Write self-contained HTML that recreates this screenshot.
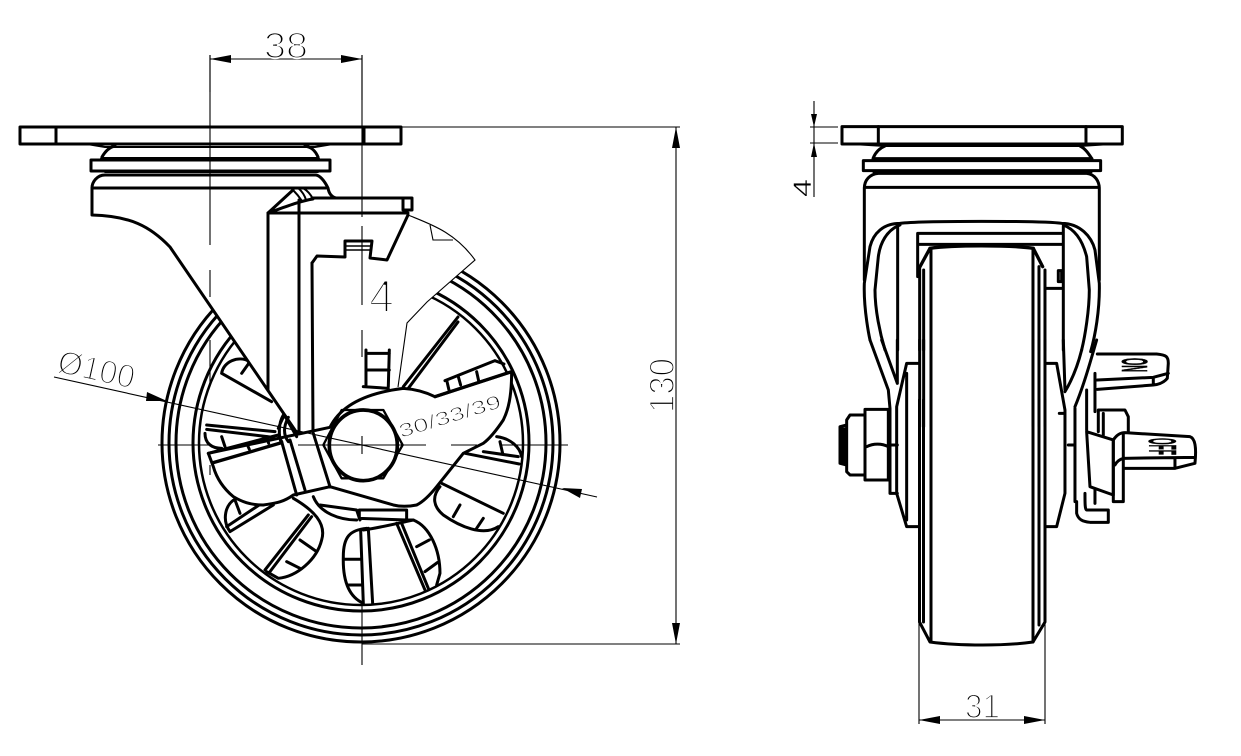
<!DOCTYPE html>
<html><head><meta charset="utf-8">
<style>
html,body{margin:0;padding:0;background:#fff}
svg{display:block}
.l{fill:none;stroke:#000;stroke-width:3;stroke-linejoin:round;stroke-linecap:round}
.z{fill:none;stroke:#000;stroke-width:9;stroke-linejoin:round;stroke-linecap:round}
.zf{fill:#fff;stroke:#000;stroke-width:9;stroke-linejoin:round;stroke-linecap:round}
.n{fill:none;stroke:#000;stroke-width:1.1}
.a{fill:#000;stroke:none}
.t{font-family:"Liberation Sans",sans-serif;fill:#000;stroke:#fff;stroke-width:1.5;paint-order:fill;}
.b{font-family:"Liberation Sans",sans-serif;font-weight:bold;fill:#000;stroke:#000;stroke-width:.6}
</style></head><body>
<svg width="1241" height="756" viewBox="0 0 1241 756" xmlns="http://www.w3.org/2000/svg">
<rect width="1241" height="756" fill="#fff"/>

<!-- wheel rings -->
<g class="l" style="fill:none">
<circle cx="361" cy="443" r="199"/>
<circle cx="361" cy="443" r="192"/>
<circle cx="361" cy="443" r="185"/>
<circle cx="361" cy="443" r="168"/>
<circle cx="361" cy="443" r="162" style="stroke-width:2.5"/>
</g>

<!-- pockets (zoom coords) -->
<g transform="translate(150,340) scale(.3333)">
<path class="z" d="M650,565C600,570 580,590 580,650C578,720 595,770 640,790M632,570L640,790M655,565L668,790M585,658L632,658M592,735L638,735M640,570C680,565 720,555 790,540"/>
<path class="z" d="M740,550L825,750M755,550L835,745M760,540L790,540C840,560 870,630 870,700L860,735M800,620L838,600M825,695L862,668"/>
<path class="z" d="M875,430L1060,520M870,440C845,470 850,500 880,525C930,560 1000,590 1045,560M930,495L910,530M1000,535L980,565"/>
<path class="z" d="M945,340L1108,372M1000,335L1105,350M1040,290C1080,295 1110,320 1115,350M1050,305L1058,340"/>
<path class="z" d="M240,575L370,495M230,560L335,490M240,575C215,540 225,490 260,475M255,480L270,520"/>
<path class="z" d="M345,690L475,525M360,695L485,530M430,475C490,510 530,550 515,600C500,660 440,710 385,715L350,695M450,600L500,635M410,665L450,685"/>
<path class="z" d="M215,100L365,185M215,100C220,65 265,45 300,65L275,100M170,255L375,275M170,268L370,292M165,280C165,310 185,325 215,325M215,290L225,320"/>
<path class="z" d="M760,140L924,-69M775,145L924,-54"/>
<path class="z" d="M490,470C510,520 570,540 620,540M510,495L620,510L630,540"/>
<path class="zf" d="M628,510L770,510L770,540L628,535Z"/>
</g>

<!-- mask for fork + brake region -->
<path fill="#fff" d="M92,188L92,215C130,218 150,226 170,247L297,433L330,428L363,393L398,387L407,323L427,302L475,260C455,232 430,226 408,215L340,198L330,176L100,176Z"/>

<!-- plate and swivel -->
<rect x="20" y="127" width="381" height="17" class="l"/>
<path class="l" d="M56,127V144M364,127V144"/>
<path class="l" style="stroke-width:2" d="M87,144L105,147H315L333,144"/>
<path class="l" d="M102,157C106,150 110,147 115,146M305,146C311,147 315,150 318,157"/>
<path class="l" style="stroke-width:4" d="M102,159H318"/>
<rect x="91" y="160" width="239" height="11" class="l"/>
<path class="l" style="stroke-width:2" d="M105,172H318"/>
<path class="l" d="M92,188C92,182 97,175 105,175H316C321,176 325,182 328,188C329,194 332,197 336,198"/>
<path class="l" d="M92,188H326M92,188V215C130,216 150,226 170,247L297,433"/>

<!-- brake -->
<path class="l" d="M268,213V390M299,200V433M312,263L313,433L330,487"/>
<path class="l" d="M268,213H408M312,198H412V210H403V198M268,213L293,190M268,213C285,207 300,201 313,199"/>
<path class="l" style="stroke-width:2" d="M293,190C296,193 300,198 302,201M298,188C302,191 305,196 306,200M303,188C308,191 311,195 313,199"/>
<path class="l" d="M408,215L387,260L370,258L372,241H345V257L317,256L312,263"/>
<path class="l" style="stroke-width:1.5" d="M346,246H371M346,250H371"/>
<path class="n" d="M408,215C430,224 455,232 475,260L427,302L407,323L398,387M430,225L433,240H453"/>

<!-- hub -->
<g transform="translate(150,340) scale(.3333)">
<path class="zf" d="M175,340L540,262C570,200 640,160 760,145C790,147 825,155 855,170L1085,95C1085,170 1075,210 1060,240C1040,270 1020,295 1000,310L940,340L860,440C840,465 820,485 800,495C775,500 750,500 730,495L540,440L430,465C395,490 370,490 340,495C300,495 275,485 250,470C220,445 200,415 190,380Z"/>
<path class="z" style="stroke-width:10" d="M190,368L395,308M855,170L1085,95"/>
<path class="z" d="M175,340L385,285L395,305M290,310L298,328M350,290L356,310"/>
<path class="z" d="M885,122L1035,62L1062,72M890,120L897,150M925,110L932,135M980,95L986,122"/>
<path class="z" d="M385,265C395,240 400,232 403,225L440,290M400,225C385,250 385,290 395,310M415,232C400,260 400,285 415,305M395,305L440,465M420,300L465,450M490,280L540,440"/>
<path class="z" d="M648,30L648,140M718,30L715,140M648,40H718M648,90H718M640,140L715,145"/>
<path class="z" d="M520,315L575,415H700L758,315L700,210H575Z" style="stroke-width:7"/>
<ellipse cx="640" cy="316" rx="102" ry="106" class="zf" style="stroke-width:11"/>
</g>

<!-- left view centre lines -->
<path class="n" d="M158,445H210M298,445H426M451,445H477M500,445H568M354,445H372"/>
<path class="n" d="M362,55V217M362,226V305M362,330V357M362,436V454M362,603V665"/>
<path class="n" d="M210,55V92M210,100V245M210,270V297M210,340V383M210,465V475"/>

<!-- dimension 38 -->
<path class="n" d="M210,55V100M362,55V100M210,59H362"/>
<path class="a" d="M210,59L231,55V63ZM362,59L341,55V63Z"/>
<text class="t" style="stroke-width:1.8" x="264" y="58" font-size="36" textLength="44" lengthAdjust="spacingAndGlyphs">38</text>

<!-- dimension 130 -->
<path class="n" d="M401,127H680M362,644H680M676,127V644"/>
<path class="a" d="M676,127L672,148H680ZM676,644L672,623H680Z"/>
<text class="t" style="stroke-width:1.8" transform="translate(674,413) rotate(-90)" font-size="35" textLength="55" lengthAdjust="spacingAndGlyphs">130</text>

<!-- dimension 100 -->
<path class="n" d="M54,377L597,497"/>
<path class="a" d="M167,401L147,392L146,401ZM562,488L582,489L580,498Z"/>
<text class="t" style="stroke-width:1.8" transform="translate(56,372) rotate(12.5)" font-size="33" textLength="78" lengthAdjust="spacingAndGlyphs">Ø100</text>

<text class="t" style="stroke-width:.9" transform="translate(401,438) rotate(-17)" font-size="19" textLength="106" lengthAdjust="spacingAndGlyphs">30/33/39</text>
<text class="t" style="stroke-width:2.4" x="369" y="312" font-size="46" textLength="25" lengthAdjust="spacingAndGlyphs">4</text>

<!-- right view top -->
<g transform="translate(820,110) scale(.3333)">
<rect x="66" y="50" width="841" height="52" class="z"/>
<path class="z" d="M175,50V102M798,50V102"/>
<path class="z" style="stroke-width:6" d="M115,103L195,108H780L855,103"/>
<path class="z" d="M160,143C170,120 185,112 195,108M780,108C795,115 805,130 815,145"/>
<path class="z" style="stroke-width:11" d="M160,147H815"/>
<rect x="130" y="152" width="712" height="30" class="z"/>
<path class="z" style="stroke-width:5" d="M160,187H815"/>
<path class="z" d="M133,235C133,210 150,192 175,190H800C825,192 838,215 838,235M133,232H838M133,235V510M838,235V510"/>
<path class="z" style="stroke-width:9" d="M240,340C190,340 160,370 150,410L133,520C130,600 150,690 150,690M240,340C300,332 670,332 725,340C780,340 815,380 825,420L838,520C840,600 825,680 812,725"/>
<path class="z" d="M240,345C200,360 180,400 175,440L165,540C165,600 180,670 195,720M730,345C770,360 790,400 800,440L808,540C808,600 795,680 785,720"/>
<path class="z" d="M233,350V720M730,350V720M293,500V370H728M298,403H728"/>
<path class="z" style="stroke-width:10" d="M330,415C400,405 570,405 640,415M300,470L330,415M640,415L668,470"/>
<path class="z" d="M715,482H725V515H715ZM678,535H728"/>
<path class="z" d="M299,470V720M311,480V720M333,415V720M639,415V720M657,470V720M675,480V720"/>
</g>

<!-- right view lower -->
<g transform="translate(820,340) scale(.3333)">
<path class="z" d="M150,0L205,150L210,205V460H232M185,0L232,130M232,0V130M212,315H232M830,0C810,70 790,140 765,200M785,30C770,90 750,130 735,155M730,0L735,150"/>
<path class="z" d="M295,70H260L230,200V460L260,560H295M260,100V540M680,70H710L735,210V460L710,560H680M718,220H735M745,315H765M765,205V485M800,150V270M825,100V215"/>
<path class="z" d="M135,208H205V420H135ZM140,320C160,310 185,310 205,320M135,225H90L80,240V395L90,405H135M60,260L80,255V375L60,370Z"/>
<path class="a" d="M60,262H78V372H60Z"/>
<path class="z" d="M832,42H1010C1040,45 1045,50 1045,70L1042,115C1030,130 1010,135 1000,135L832,148M832,120L1000,112L1045,100M1000,112V135"/>
<path class="z" d="M835,210H915L925,230V275M835,210V275M850,220V285"/>
<path class="zf" d="M800,275L880,300L880,465L810,440Z"/>
<path class="z" d="M880,300C890,285 900,278 915,278L1110,290C1125,295 1130,320 1125,370L1065,385H910M910,280V485H880V300M885,375C890,365 900,358 910,355L1125,352M1065,355V385"/>
<path class="z" d="M770,485V520C775,540 790,545 810,547H865V510H800C795,510 795,490 795,460M825,450V490"/>
<path class="z" d="M299,0V260M311,0V260M333,0V260M639,0V260M657,0V260M675,0V260"/>
</g>
<text class="b" transform="translate(1122,358) rotate(90)" font-size="36" textLength="14" lengthAdjust="spacingAndGlyphs">ON</text>
<text class="b" transform="translate(1149,438) rotate(90)" font-size="39" textLength="17" lengthAdjust="spacingAndGlyphs">OFF</text>

<!-- wheel lower sides -->
<path class="l" d="M919.5,400V622L930,642C960,646 1005,646 1033,642L1045,622V400"/>
<path class="l" d="M923.5,400V622M931,400V642M1033,400V642M1039,400V625"/>

<!-- right dims -->
<path class="n" d="M814,101V197M810,127H838M810,143H838"/>
<path class="a" d="M814,127L811,114H817ZM814,143L811,157H817Z"/>
<text class="t" style="stroke-width:.5" transform="translate(811,197) rotate(-90)" font-size="25" textLength="18" lengthAdjust="spacingAndGlyphs">4</text>

<path class="n" d="M919,622V724M1045,622V724M919,720H1045"/>
<path class="a" d="M919,720L940,716V724ZM1045,720L1024,716V724Z"/>
<text class="t" style="stroke-width:1.8" x="965" y="718" font-size="34" textLength="35" lengthAdjust="spacingAndGlyphs">31</text>
</svg>
</body></html>
